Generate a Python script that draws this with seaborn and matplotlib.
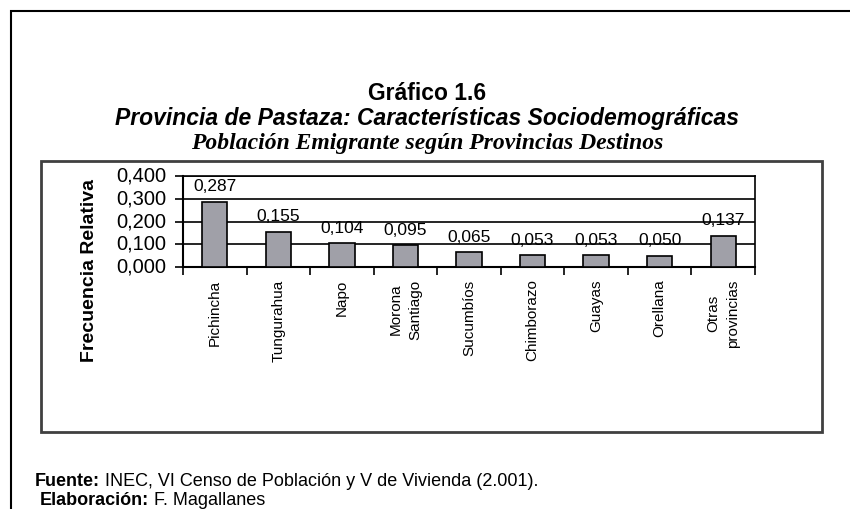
import matplotlib
matplotlib.use("Agg")
import matplotlib.pyplot as plt
import seaborn as sns
import pandas as pd
from matplotlib.patches import Rectangle
from matplotlib.ticker import FixedLocator, FuncFormatter

# Data
provincias = ["Pichincha", "Tungurahua", "Napo", "Morona\nSantiago", "Sucumbíos",
              "Chimborazo", "Guayas", "Orellana", "Otras\nprovincias"]
frecuencia = [0.287, 0.155, 0.104, 0.095, 0.065, 0.053, 0.053, 0.050, 0.137]
y_ticks = [0.0, 0.1, 0.2, 0.3, 0.4]

df = pd.DataFrame({"provincia": provincias, "frecuencia": frecuencia})

sns.set_style("white")
plt.rcParams["font.family"] = ["Liberation Sans", "DejaVu Sans"]
plt.rcParams["text.color"] = "black"
plt.rcParams["xtick.color"] = "black"
plt.rcParams["ytick.color"] = "black"

W, H = 850, 509
fig = plt.figure(figsize=(8.5, 5.09), dpi=100)

# outer frame and inner chart box
fig.patches.append(Rectangle((11 / W, -0.05), 900 / W, 1 - 11 / H + 0.05, transform=fig.transFigure,
                             fill=False, edgecolor="black", linewidth=1.5))
fig.patches.append(Rectangle((41 / W, 1 - 432 / H), (822 - 41) / W, (432 - 161) / H,
                             transform=fig.transFigure, fill=False, edgecolor="#404040", linewidth=2))

ax = fig.add_axes([183 / W, 1 - 267 / H, (755 - 183) / W, (267 - 176) / H])
sns.barplot(data=df, x="provincia", y="frecuencia", color="#a0a0a8", saturation=1,
            width=0.4, edgecolor="black", linewidth=1.2, ax=ax, zorder=3)

ax.set_ylim(0, 0.4)
ax.set_xlim(-0.5, len(provincias) - 0.5)
ax.set_yticks(y_ticks)
ax.yaxis.set_major_formatter(FuncFormatter(lambda v, p: f"{v:.3f}".replace(".", ",")))
for yv in y_ticks[1:]:
    ax.axhline(yv, color="black", linewidth=1.2, zorder=1)

ax.xaxis.set_major_locator(FixedLocator(range(len(provincias))))
ax.set_xticklabels(provincias, rotation=90, fontsize=11, va="top", ha="center", linespacing=1.5)
ax.tick_params(axis="x", which="major", length=0, pad=9)
ax.xaxis.set_minor_locator(FixedLocator([i - 0.5 for i in range(len(provincias) + 1)]))
ax.tick_params(axis="x", which="minor", bottom=True, length=6, width=1.2, direction="out")
ax.tick_params(axis="y", left=True, length=6, width=1.2, direction="out", labelsize=14.5, pad=6)
for lbl in ax.get_yticklabels():
    lbl.set_va("center")

for s in ax.spines.values():
    s.set_color("black")
    s.set_linewidth(1.2)
ax.spines["left"].set_linewidth(1.5)
ax.spines["bottom"].set_linewidth(1.5)
ax.set_xlabel("")
ax.set_ylabel("")

for i, v in enumerate(frecuencia):
    ax.annotate(f"{v:.3f}".replace(".", ","), (i, v), xytext=(0, 7.5), textcoords="offset points",
                ha="center", va="baseline", fontsize=12.5, zorder=4)

fig.text(90 / W, 1 - 270 / H, "Frecuencia Relativa", rotation=90, ha="center", va="center",
         fontsize=14, fontweight="bold")

# titles
fig.text(427 / W, 1 - 93 / H, "Gráfico 1.6", ha="center", va="center", fontsize=16.5, fontweight="bold")
fig.text(427 / W, 1 - 118 / H, "Provincia de Pastaza: Características Sociodemográficas",
         ha="center", va="center", fontsize=16.5, fontweight="bold", style="italic")
fig.text(427 / W, 1 - 143 / H, "Población Emigrante según Provincias Destinos",
         ha="center", va="center", fontsize=17, fontweight="bold", style="italic",
         family=["Liberation Serif", "DejaVu Serif"])

# footer with bold lead words
renderer = fig.canvas.get_renderer()
for x0, yb, bold, rest in [(35, 486, "Fuente:", " INEC, VI Censo de Población y V de Vivienda (2.001)."),
                           (40, 505, "Elaboración:", " F. Magallanes")]:
    t = fig.text(x0 / W, 1 - yb / H, bold, ha="left", va="baseline", fontsize=13, fontweight="bold")
    bb = t.get_window_extent(renderer)
    fig.text(bb.x1 / W, 1 - yb / H, rest, ha="left", va="baseline", fontsize=13)

fig.savefig("out.png", dpi=100)
